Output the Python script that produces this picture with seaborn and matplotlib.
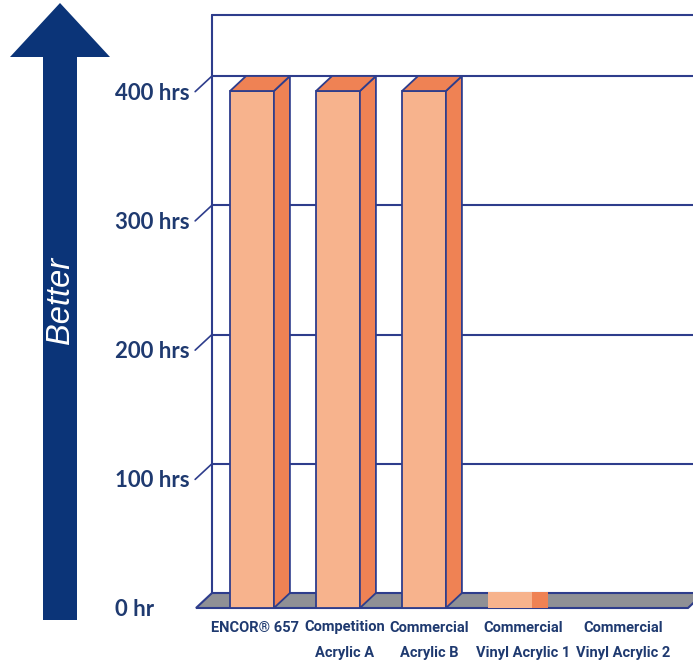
import numpy as np
import pandas as pd
import seaborn as sns
import matplotlib.pyplot as plt
import matplotlib.transforms as mtransforms
from matplotlib.patches import Polygon

# chart data
products = ["ENCOR® 657", "Competition\nAcrylic A", "Commercial\nAcrylic B",
            "Commercial\nVinyl Acrylic 1", "Commercial\nVinyl Acrylic 2"]
hours = [400, 400, 400, 12, 0]
ytick_values = [0, 100, 200, 300, 400]
ytick_labels = ["0 hr", "100 hrs", "200 hrs", "300 hrs", "400 hrs"]

FRONT = "#f7b38d"
SIDE = "#ef8254"
LINE = "#2e3d8c"
NAVY = "#1f3a70"
ARROW = "#0b3478"
FLOOR = "#8f9095"

sns.set_style("white")
plt.rcParams["font.family"] = ["Lato", "DejaVu Sans"]

W, H = 693, 666
fig = plt.figure(figsize=(W / 100, H / 100), dpi=100)


def fx(px):
    return px / W


def fy(py):
    return 1 - py / H


# front plane of the pseudo-3D chart
ax = fig.add_axes([fx(196), fy(608), (688 - 196) / W, (608 - 13.45) / H])
df = pd.DataFrame({"product": products, "hours": hours})
sns.barplot(data=df, x="product", y="hours", ax=ax, color=FRONT, saturation=1,
            width=0.51, edgecolor=LINE, linewidth=1.3, zorder=3)

ax.set_xlim(-0.651, 5.07)
ax.set_ylim(0, 460)
x0, x1 = ax.get_xlim()

# depth offset (16 px right, 15 px up) in data units
px_per_cat = (688 - 196) / (x1 - x0)
px_per_hr = (608 - 13.45) / 460
DX = 16 / px_per_cat
DY = 15 / px_per_hr

# back wall
wall_top = (608 - 15) / px_per_hr
ax.plot([x0 + DX, x0 + DX], [DY, wall_top], color=LINE, lw=1.5, zorder=1, clip_on=False)
ax.plot([x0 + DX, x1 + 2], [wall_top, wall_top], color=LINE, lw=1.5, zorder=1, clip_on=False)
for v in ytick_values[1:]:
    ax.plot([x0 + DX, x1 + 2], [v + DY, v + DY], color=LINE, lw=1.5, zorder=1, clip_on=False)
    ax.plot([x0 - 0.01, x0 + DX], [v - 0.5, v + DY], color=LINE, lw=1.2, zorder=1, clip_on=False)

# floor
floor = Polygon([(x0, 0), (x1, 0), (x1 + DX, DY), (x0 + DX, DY)], closed=True,
                facecolor=FLOOR, edgecolor=LINE, lw=1.5, zorder=2, clip_on=False)
ax.add_patch(floor)

# side and top faces of bars
for p in list(ax.patches):
    if p is floor:
        continue
    bx, bw, bh = p.get_x(), p.get_width(), p.get_height()
    if bh <= 0:
        p.set_visible(False)
        continue
    if bh < 2 * DY:
        # very short bar: drawn flat on the floor
        p.set_edgecolor("none")
        flat = Polygon([(bx + bw, 0), (bx + bw, bh), (bx + bw + DX, bh), (bx + bw + DX, 0)],
                       closed=True, facecolor=SIDE, edgecolor="none", zorder=3)
        ax.add_patch(flat)
        continue
    side = Polygon([(bx + bw, 0), (bx + bw, bh), (bx + bw + DX, bh + DY), (bx + bw + DX, DY)],
                   closed=True, facecolor=SIDE, edgecolor=LINE, lw=1.3, zorder=3)
    top = Polygon([(bx, bh), (bx + bw, bh), (bx + bw + DX, bh + DY), (bx + DX, bh + DY)],
                  closed=True, facecolor=SIDE, edgecolor=LINE, lw=1.3, zorder=3)
    ax.add_patch(side)
    ax.add_patch(top)

# axes text
ax.set_xlabel("")
ax.set_ylabel("")
for s in ax.spines.values():
    s.set_visible(False)
ax.patch.set_visible(False)

ax.set_yticks(ytick_values)
ax.set_yticklabels(ytick_labels)
ax.tick_params(axis="y", length=0, pad=58, labelsize=16, labelcolor=NAVY)
for lab in ax.get_yticklabels():
    lab.set_ha("left")
    lab.set_fontweight("bold")

ax.set_xticks(range(len(products)))
ax.set_xticklabels(products)
ax.tick_params(axis="x", length=0, pad=9, labelcolor=NAVY)
label_shift_px = [3, 7, 5, 13, 27]
for lab, sh in zip(ax.get_xticklabels(), label_shift_px):
    lab.set_family(["Roboto", "DejaVu Sans"])
    lab.set_fontsize(10.5)
    lab.set_fontweight("bold")
    lab.set_linespacing(2.05)
    shift = mtransforms.ScaledTranslation(sh / 100, 0, fig.dpi_scale_trans)
    lab.set_transform(lab.get_transform() + shift)

# "Better" arrow
arrow_pts = [(60, 3), (110, 57), (77, 57), (77, 620), (43, 620), (43, 57), (10, 57)]
fig.add_artist(Polygon([(fx(a), fy(b)) for a, b in arrow_pts], closed=True,
                       transform=fig.transFigure, facecolor=ARROW, edgecolor="none"))
fig.text(fx(60), fy(300), "Better", rotation=90, color="white", fontsize=23.5,
         style="italic", ha="center", va="center", family=["Liberation Sans", "DejaVu Sans"])

fig.savefig("out.png", dpi=100)
